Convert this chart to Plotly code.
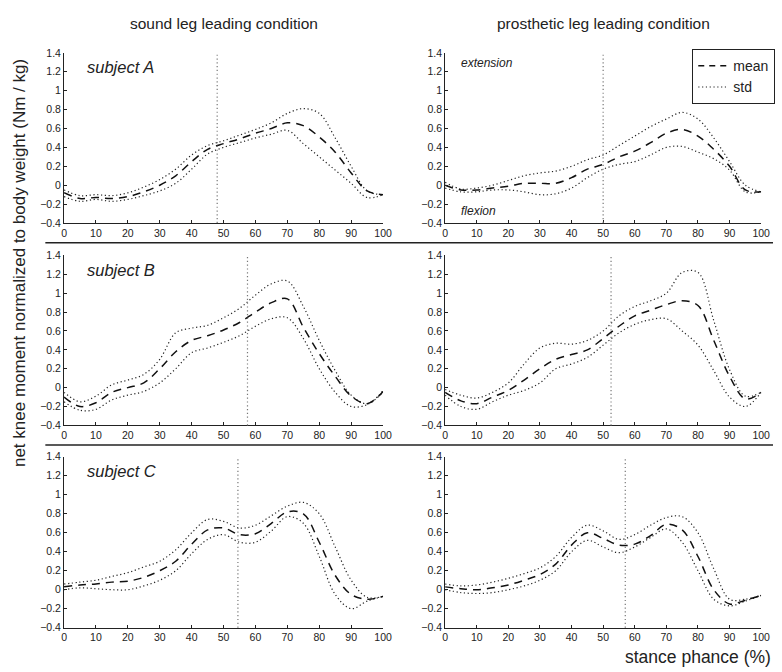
import plotly.graph_objects as go

# Stance phase sample points (%)
STANCE = [0, 5, 10, 15, 20, 25, 30, 35, 40, 45, 50, 55, 60, 65, 70, 75, 80, 85, 90, 95, 100]

# Subject A, sound leg leading
A_SOUND_MEAN = [-0.08, -0.14, -0.13, -0.14, -0.12, -0.07, 0.00, 0.10, 0.25, 0.38, 0.44, 0.49, 0.55, 0.60, 0.66, 0.63, 0.51, 0.35, 0.13, -0.06, -0.10]
A_SOUND_UP = [-0.05, -0.11, -0.10, -0.11, -0.08, -0.02, 0.06, 0.17, 0.32, 0.42, 0.47, 0.53, 0.59, 0.66, 0.76, 0.81, 0.76, 0.50, 0.20, -0.06, -0.10]
A_SOUND_LO = [-0.12, -0.17, -0.15, -0.17, -0.15, -0.11, -0.06, 0.02, 0.17, 0.33, 0.40, 0.45, 0.50, 0.54, 0.58, 0.44, 0.30, 0.16, 0.02, -0.13, -0.10]

# Subject A, prosthetic leg leading
A_PROS_MEAN = [0.00, -0.05, -0.05, -0.03, -0.01, 0.02, 0.02, 0.02, 0.08, 0.17, 0.22, 0.30, 0.36, 0.45, 0.55, 0.59, 0.52, 0.38, 0.20, -0.05, -0.07]
A_PROS_UP = [0.03, -0.04, -0.03, 0.00, 0.05, 0.10, 0.13, 0.15, 0.20, 0.27, 0.32, 0.42, 0.52, 0.62, 0.70, 0.77, 0.70, 0.50, 0.25, 0.00, -0.07]
A_PROS_LO = [-0.03, -0.07, -0.07, -0.05, -0.05, -0.07, -0.10, -0.09, -0.03, 0.08, 0.17, 0.22, 0.25, 0.32, 0.40, 0.41, 0.35, 0.28, 0.16, -0.07, -0.07]

# Subject B, sound leg leading
B_SOUND_MEAN = [-0.10, -0.20, -0.16, -0.05, 0.00, 0.05, 0.20, 0.38, 0.50, 0.55, 0.61, 0.69, 0.80, 0.90, 0.94, 0.64, 0.36, 0.12, -0.09, -0.17, -0.04]
B_SOUND_UP = [-0.05, -0.15, -0.09, 0.03, 0.08, 0.14, 0.30, 0.58, 0.63, 0.66, 0.74, 0.84, 0.98, 1.10, 1.13, 0.86, 0.50, 0.18, -0.08, -0.17, -0.03]
B_SOUND_LO = [-0.15, -0.24, -0.23, -0.13, -0.08, -0.04, 0.05, 0.20, 0.37, 0.42, 0.48, 0.55, 0.65, 0.73, 0.74, 0.52, 0.20, -0.05, -0.20, -0.18, -0.05]

# Subject B, prosthetic leg leading
B_PROS_MEAN = [-0.05, -0.14, -0.17, -0.10, -0.03, 0.08, 0.20, 0.30, 0.35, 0.40, 0.52, 0.65, 0.76, 0.82, 0.88, 0.92, 0.87, 0.50, 0.12, -0.12, -0.05]
B_PROS_UP = [-0.02, -0.08, -0.11, -0.05, 0.05, 0.25, 0.42, 0.47, 0.46, 0.50, 0.60, 0.76, 0.86, 0.92, 1.00, 1.22, 1.22, 0.71, 0.19, -0.09, -0.05]
B_PROS_LO = [-0.08, -0.20, -0.23, -0.15, -0.08, -0.03, 0.05, 0.20, 0.25, 0.32, 0.45, 0.58, 0.67, 0.72, 0.73, 0.60, 0.45, 0.18, -0.10, -0.20, -0.05]

# Subject C, sound leg leading
C_SOUND_MEAN = [0.03, 0.05, 0.06, 0.08, 0.09, 0.13, 0.20, 0.30, 0.48, 0.63, 0.65, 0.58, 0.59, 0.70, 0.82, 0.80, 0.50, 0.15, -0.05, -0.10, -0.07]
C_SOUND_UP = [0.06, 0.08, 0.10, 0.14, 0.18, 0.24, 0.30, 0.42, 0.60, 0.74, 0.72, 0.65, 0.68, 0.78, 0.88, 0.92, 0.80, 0.45, 0.10, -0.08, -0.07]
C_SOUND_LO = [0.00, 0.02, 0.01, 0.00, 0.00, 0.04, 0.10, 0.20, 0.38, 0.53, 0.58, 0.50, 0.50, 0.62, 0.77, 0.70, 0.35, -0.05, -0.20, -0.12, -0.07]

# Subject C, prosthetic leg leading
C_PROS_MEAN = [0.03, 0.01, 0.00, 0.02, 0.05, 0.10, 0.16, 0.27, 0.47, 0.60, 0.54, 0.47, 0.48, 0.57, 0.69, 0.63, 0.35, 0.00, -0.15, -0.11, -0.06]
C_PROS_UP = [0.06, 0.04, 0.05, 0.08, 0.12, 0.17, 0.23, 0.35, 0.55, 0.68, 0.62, 0.53, 0.58, 0.68, 0.76, 0.77, 0.60, 0.22, -0.10, -0.10, -0.06]
C_PROS_LO = [0.00, -0.03, -0.04, -0.03, 0.00, 0.04, 0.10, 0.20, 0.40, 0.52, 0.45, 0.39, 0.45, 0.55, 0.64, 0.50, 0.20, -0.10, -0.17, -0.12, -0.06]

# Heel-strike of the contralateral leg (% stance), one per panel
CONTRA_STRIKE = [48, 50, 57.5, 52.5, 54.5, 57]

SUBJECTS = ["subject A", "subject B", "subject C"]
CONDITIONS = ["sound leg leading condition", "prosthetic leg leading condition"]
X_TICKS = [0, 10, 20, 30, 40, 50, 60, 70, 80, 90, 100]
Y_TICKS = [-0.4, -0.2, 0, 0.2, 0.4, 0.6, 0.8, 1, 1.2, 1.4]

panels = [
    (A_SOUND_MEAN, A_SOUND_UP, A_SOUND_LO),
    (A_PROS_MEAN, A_PROS_UP, A_PROS_LO),
    (B_SOUND_MEAN, B_SOUND_UP, B_SOUND_LO),
    (B_PROS_MEAN, B_PROS_UP, B_PROS_LO),
    (C_SOUND_MEAN, C_SOUND_UP, C_SOUND_LO),
    (C_PROS_MEAN, C_PROS_UP, C_PROS_LO),
]

W, H = 782, 672
col_px = [(62, 386), (449, 770)]
row_px = [(47.7, 221), (254, 427), (459, 633)]

FONT = "Liberation Sans, Arial, Helvetica, sans-serif"
STD_LINE = dict(color="#222", width=1.2, dash="1.2px,2.6px")
MEAN_LINE = dict(color="#111", width=1.5, dash="8px,6px")

fig = go.Figure()
layout = dict(
    width=W, height=H,
    margin=dict(l=0, r=0, t=0, b=0),
    paper_bgcolor="white", plot_bgcolor="white",
    font=dict(family=FONT, color="#222", size=10),
    showlegend=True,
    legend=dict(
        x=700 / W, y=1 - 44 / H, xanchor="left", yanchor="top",
        bordercolor="#222", borderwidth=1, bgcolor="white",
        font=dict(size=14, color="#222"), itemwidth=30,
        tracegroupgap=0,
    ),
)

shapes = []
annotations = []
spline = dict(shape="spline", smoothing=1.0)

for i, (mean, up, lo) in enumerate(panels):
    r, c = divmod(i, 2)
    n = i + 1
    xa = "x" if n == 1 else f"x{n}"
    ya = "y" if n == 1 else f"y{n}"
    x0, x1 = col_px[c]
    y0, y1 = row_px[r]
    ax_common = dict(
        showline=True, linecolor="#222", linewidth=1, mirror=False,
        ticks="inside", ticklen=3, tickcolor="#222", showgrid=False,
        zeroline=False, tickfont=dict(size=10.5, color="#222"),
    )
    layout["xaxis" + ("" if n == 1 else str(n))] = dict(
        domain=[x0 / W, x1 / W], range=[0, 100], tickvals=X_TICKS,
        anchor=ya, **ax_common,
    )
    layout["yaxis" + ("" if n == 1 else str(n))] = dict(
        domain=[1 - y1 / H, 1 - y0 / H], range=[-0.4, 1.4], tickvals=Y_TICKS,
        anchor=xa, **ax_common,
    )

    for band in (up, lo):
        fig.add_trace(go.Scatter(
            x=STANCE, y=band, mode="lines", xaxis=xa, yaxis=ya,
            line=dict(**STD_LINE, **spline),
            name="std", legendgroup="std", showlegend=False,
        ))
    fig.add_trace(go.Scatter(
        x=STANCE, y=mean, mode="lines", xaxis=xa, yaxis=ya,
        line=dict(**MEAN_LINE, **spline),
        name="mean", legendgroup="mean", showlegend=False,
    ))

    # contralateral heel strike marker
    shapes.append(dict(
        type="line", xref=xa, yref=f"{ya} domain",
        x0=CONTRA_STRIKE[i], x1=CONTRA_STRIKE[i], y0=0, y1=1,
        line=dict(color="#777", width=1.2, dash="1.2px,2.6px"),
    ))

    if c == 0:
        annotations.append(dict(
            text=f"<i>{SUBJECTS[r]}</i>", xref=xa, yref=ya, x=6.5, y=1.25,
            xanchor="left", yanchor="middle", showarrow=False,
            font=dict(size=16.5, color="#222"),
        ))

# legend entries
fig.add_trace(go.Scatter(
    x=[None], y=[None], mode="lines", name="mean",
    line=dict(color="#111", width=1.5, dash="6px,5px"),
))
fig.add_trace(go.Scatter(
    x=[None], y=[None], mode="lines", name="std",
    line=dict(**STD_LINE),
))

annotations += [
    dict(text="<i>extension</i>", xref="x2", yref="y2", x=4.4, y=1.29,
         xanchor="left", yanchor="middle", showarrow=False,
         font=dict(size=12, color="#222")),
    dict(text="<i>flexion</i>", xref="x2", yref="y2", x=4.4, y=-0.27,
         xanchor="left", yanchor="middle", showarrow=False,
         font=dict(size=12, color="#222")),
]

for c, title in enumerate(CONDITIONS):
    x0, x1 = col_px[c]
    annotations.append(dict(
        text=title, xref="paper", yref="paper", x=(x0 + x1) / 2 / W,
        y=1 - 18 / H, xanchor="center", yanchor="middle", showarrow=False,
        font=dict(size=15.5, color="#222"),
    ))

annotations.append(dict(
    text="net knee moment normalized to body weight (Nm / kg)",
    xref="paper", yref="paper", x=17 / W, y=1 - 262 / H, textangle=-90,
    xanchor="center", yanchor="middle", showarrow=False,
    font=dict(size=17, color="#222"),
))
annotations.append(dict(
    text="stance phance (%)", xref="paper", yref="paper", x=1, y=1 - 663 / H,
    xanchor="right", yanchor="middle", showarrow=False,
    font=dict(size=17.5, color="#222"),
))

# row separators
for ypx in (241, 447):
    shapes.append(dict(
        type="line", xref="paper", yref="paper", x0=43 / W, x1=1,
        y0=1 - ypx / H, y1=1 - ypx / H, line=dict(color="#222", width=1.5),
    ))

layout["shapes"] = shapes
layout["annotations"] = annotations
fig.update_layout(**layout)
fig.write_html("out.html")
